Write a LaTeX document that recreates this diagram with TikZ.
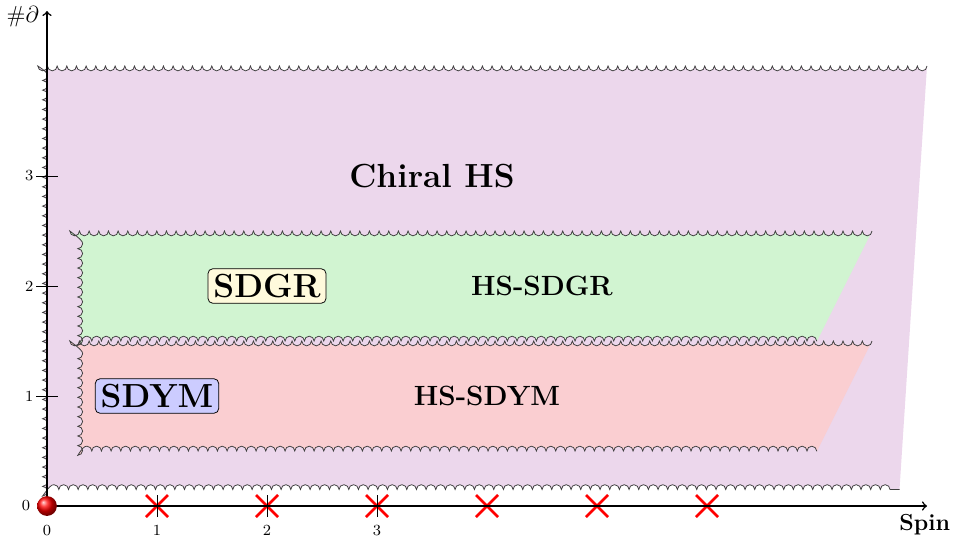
\documentclass[tikz,border=0pt]{standalone}
\usetikzlibrary{decorations.pathmorphing,shadings}
\definecolor{chiralc}{RGB}{236,215,236}
\definecolor{sdgrc}{RGB}{209,244,209}
\definecolor{sdymc}{RGB}{250,206,209}
\definecolor{sdgrbox}{RGB}{255,250,220}
\definecolor{sdymbox}{RGB}{204,204,255}
\tikzset{
  bumpdec/.style={decoration={bumps,segment length=10pt,amplitude=2.5pt}},
  wavyline/.style={bumpdec,decorate,draw=black!75,line width=0.4pt},
  tagbox/.style={draw=black,line width=0.4pt,fill=#1,rounded corners=2.5pt,inner sep=2.8pt,font=\LARGE\bfseries},
  regionlabel/.style={font=\Large\bfseries},
  bigregionlabel/.style={font=\LARGE\bfseries},
  crossmark/.style={red,line width=1.3pt},
  axisline/.style={thick,->},
  tickline/.style={line width=0.5pt},
  ticklabel/.style={font=\footnotesize,inner sep=0pt},
}
\begin{document}
\begin{tikzpicture}[x=2cm,y=2cm]
\useasboundingbox (-0.4273,-0.3) rectangle (8.2364,4.6);
% region fills
\fill[chiralc] decorate[bumpdec]{(8,4) -- (-0.04,4) -- (-0.04,0.15) -- (7.75,0.15)} -- cycle;
\fill[sdgrc] decorate[bumpdec]{(7.5,2.5) -- (0.28,2.5) -- (0.28,1.5) -- (7,1.5)} -- cycle;
\fill[sdymc] decorate[bumpdec]{(7.5,1.5) -- (0.28,1.5) -- (0.28,0.5) -- (7,0.5)} -- cycle;
% wavy borders
\draw[wavyline] (8,4) -- (-0.04,4) -- (-0.04,0.15) -- (7.75,0.15);
\draw[wavyline] (7.5,2.5) -- (0.28,2.5) -- (0.28,1.5) -- (7,1.5);
\draw[wavyline] (7.5,1.5) -- (0.28,1.5) -- (0.28,0.5) -- (7,0.5);
% labels
\node[bigregionlabel] (chiral) at (3.5,3) {Chiral HS};
\node[tagbox=sdgrbox] (sdgr) at (2,2) {SDGR};
\node[regionlabel] (hssdgr) at (4.5,2) {HS-SDGR};
\node[tagbox=sdymbox] (sdym) at (1,1) {SDYM};
\node[regionlabel] (hssdym) at (4,1) {HS-SDYM};
% crosses
\foreach \i in {1,...,6}{
  \draw[crossmark] (\i-0.1,-0.1) -- (\i+0.1,0.1) (\i-0.1,0.1) -- (\i+0.1,-0.1);
}
% ticks
\foreach \i in {1,2,3}{
  \draw[tickline] (\i,-0.1) -- (\i,0.1);
  \draw[tickline] (-0.1,\i) -- (0.1,\i);
  \node[ticklabel,anchor=east] (yl\i) at (-0.12,\i) {\i};
}
\foreach \i in {0,1,2,3}{
  \node[ticklabel,anchor=north] (xl\i) at (\i,-0.175) {\i};
}
\node[ticklabel,anchor=east] (yl0) at (-0.15,0) {0};
% axes
\coordinate (O) at (0,0);
\coordinate (xend) at (8,0);
\coordinate (yend) at (0,4.5);
\draw[axisline] (O) -- (xend);
\draw[axisline] (O) -- (yend);
\node[anchor=east,font=\large,inner sep=0pt] (ylab) at (-0.07,4.45) {$\#\partial$};
\node[anchor=north,font=\large\bfseries,inner sep=0pt] (xlab) at (7.98,-0.07) {Spin};
% ball at origin
\shade[ball color=red] (O) circle (0.09);
\end{tikzpicture}
\end{document}
